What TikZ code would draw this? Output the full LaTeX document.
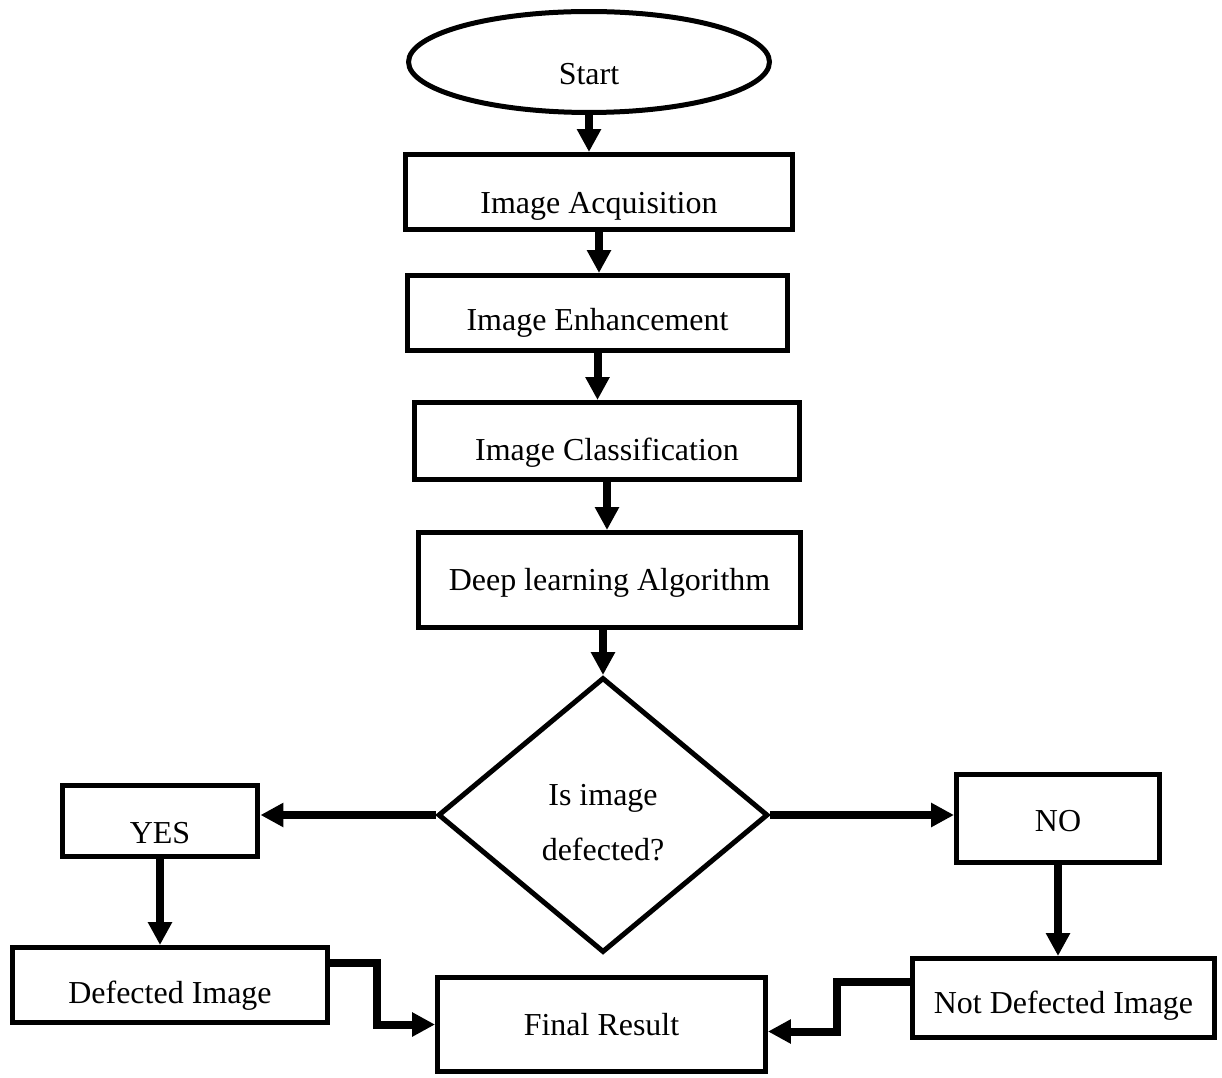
\documentclass[tikz,border=0pt]{standalone}
\usepackage{fontspec}
\setmainfont{Liberation Serif}
\usetikzlibrary{arrows.meta, shapes.geometric, calc}

\tikzset{
    block/.style={draw, line width=0.1cm, rectangle, inner sep=0pt,
        font=\fontsize{18.2pt}{31.3pt}\selectfont, text depth=0.16cm},
    decision/.style={draw, line width=0.1cm, diamond, inner sep=0pt, align=center,
        font=\fontsize{18.2pt}{31.3pt}\selectfont},
    flow/.style={line width=0.16cm, -{Triangle[length=0.46cm, width=0.46cm]}},
}

\begin{document}
\begin{tikzpicture}[x=0.02cm, y=-0.02cm]
    \useasboundingbox (0, 0) rectangle (1222, 1077);

    % main column
    \node[block, ellipse, minimum width=7.22cm, minimum height=2.02cm, text height=1.06cm] (start) at (589, 62) {Start};
    \node[block, minimum width=7.74cm, minimum height=1.5cm, text height=1.02cm] (acq) at (599, 192) {Image Acquisition};
    \node[block, minimum width=7.6cm, minimum height=1.5cm, text height=0.86cm] (enh) at (597.5, 313) {Image Enhancement};
    \node[block, minimum width=7.7cm, minimum height=1.54cm, text height=0.94cm] (cls) at (607, 441) {Image Classification};
    \node[block, minimum width=7.64cm, minimum height=1.9cm, text height=0.58cm] (dl) at (609.5, 580) {Deep learning Algorithm};
    \node[decision, minimum width=6.6cm, minimum height=5.5cm, text height=1.82cm] (q) at (603, 815) {Is image\\defected?};

    % branches
    \node[block, minimum width=3.92cm, minimum height=1.42cm, text height=1.06cm] (yes) at (160, 821) {YES};
    \node[block, minimum width=4.06cm, minimum height=1.76cm, text height=0.66cm] (no) at (1058, 818.5) {NO};
    \node[block, minimum width=6.3cm, minimum height=1.5cm, text height=0.9cm] (def) at (170, 985) {Defected Image};
    \node[block, minimum width=6.04cm, minimum height=1.58cm, text height=0.78cm] (nd) at (1063.5, 998) {Not Defected Image};
    \node[block, minimum width=6.56cm, minimum height=1.88cm, text height=0.58cm] (fin) at (601.5, 1024.5) {Final Result};

    \draw[flow] (start.south) -- (start.south |- acq.north);
    \draw[flow] (acq.south) -- (acq.south |- enh.north);
    \draw[flow] (enh.south) -- (enh.south |- cls.north);
    \draw[flow] (cls.south) -- (cls.south |- dl.north);
    \draw[flow] (dl.south -| q.north) -- (q.north);

    \draw[flow] (q.west) -- (q.west -| yes.east);
    \draw[flow] (q.east) -- (q.east -| no.west);
    \draw[flow] (yes.south) -- (yes.south |- def.north);
    \draw[flow] (no.south) -- (no.south |- nd.north);

    \draw[flow] ($(def.north east) + (0, 18)$) -- ++(47, 0) |- (fin.west);
    \draw[flow] ($(nd.north west) + (0, 26)$) -- ++(-73, 0) |- ($(fin.east) + (0, 7)$);
\end{tikzpicture}
\end{document}
